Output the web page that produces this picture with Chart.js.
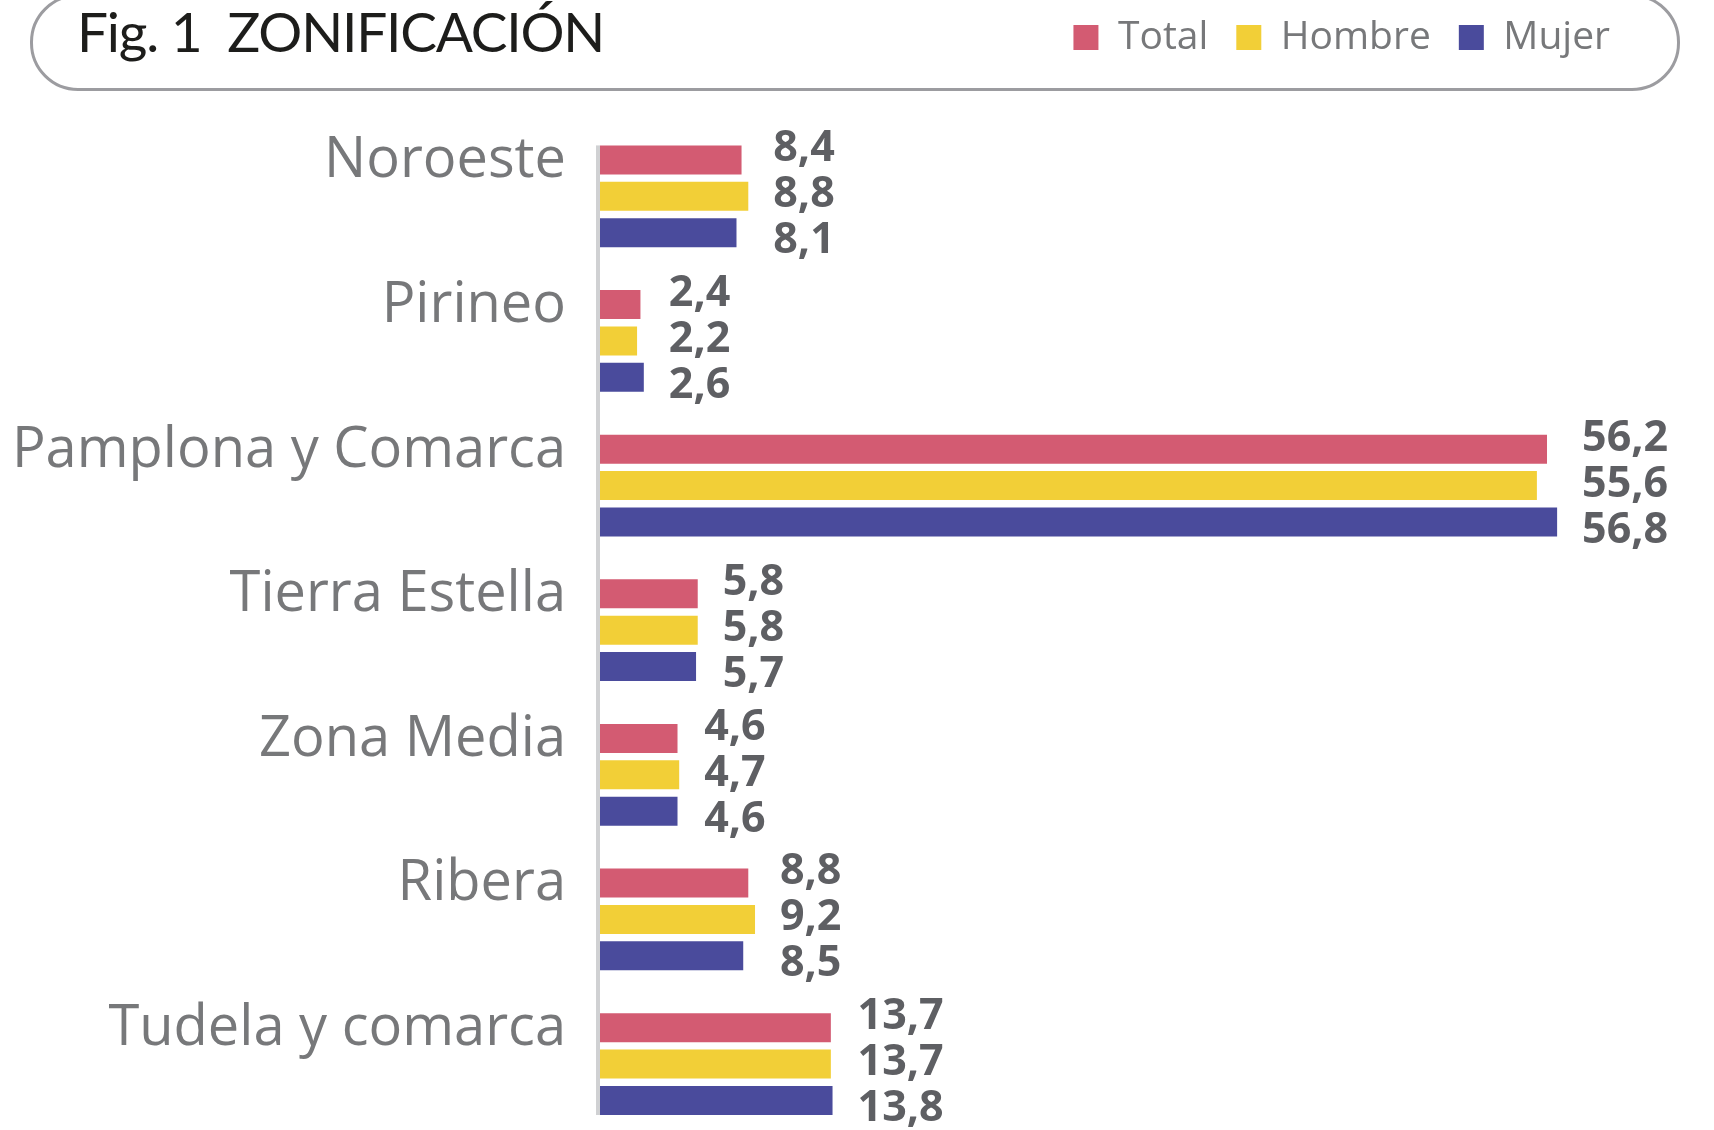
<!DOCTYPE html>
<html>
<head>
<meta charset="utf-8">
<script src="https://cdn.jsdelivr.net/npm/chart.js@4.4.1/dist/chart.umd.min.js"></script>
<style>
  html, body { margin: 0; padding: 0; background: #ffffff; }
  body { width: 1714px; height: 1130px; overflow: hidden; position: relative; }
  #frame {
    position: absolute; left: 30px; top: -6px; width: 1650px; height: 97px;
    box-sizing: border-box; border: 3px solid #9c9ca0; border-radius: 48px;
  }
  #title {
    position: absolute; left: 77px; top: 4px; margin: 0;
    font-family: 'Lato', sans-serif; font-weight: 400; font-size: 55px; line-height: 1;
    color: #1d1d1b; white-space: pre; letter-spacing: -1.2px;
  }
  #wrap { position: absolute; left: 0; top: -10px; width: 1714px; height: 1214px; }
</style>
</head>
<body>
<div id="frame"></div>
<div id="title">Fig. 1  ZONIFICACIÓN</div>
<div id="wrap"><canvas id="c" width="1714" height="1214"></canvas></div>
<script>
const categories = ['Noroeste', 'Pirineo', 'Pamplona y Comarca', 'Tierra Estella', 'Zona Media', 'Ribera', 'Tudela y comarca'];
const seriesNames = ['Total', 'Hombre', 'Mujer'];
const totalValues  = [8.4, 2.4, 56.2, 5.8, 4.6, 8.8, 13.7];
const hombreValues = [8.8, 2.2, 55.6, 5.8, 4.7, 9.2, 13.7];
const mujerValues  = [8.1, 2.6, 56.8, 5.7, 4.6, 8.5, 13.8];
const seriesColors = ['#d35b72', '#f2cf37', '#4a4b9c'];

const fmt = v => v.toFixed(1).replace('.', ',');

const legendSpacer = {
  id: 'legendSpacer',
  beforeInit(chart) {
    const origFit = chart.legend.fit;
    chart.legend.fit = function fit() {
      origFit.bind(chart.legend)();
      this.height += 57;
    };
  }
};

const axisLine = {
  id: 'axisLine',
  beforeDatasetsDraw(chart) {
    const first = chart.getDatasetMeta(0).data[0];
    const lastMeta = chart.getDatasetMeta(chart.data.datasets.length - 1);
    const last = lastMeta.data[lastMeta.data.length - 1];
    const top = first.y - first.height / 2;
    const bottom = last.y + last.height / 2;
    const ctx = chart.ctx;
    ctx.save();
    ctx.fillStyle = '#d0d1d3';
    ctx.fillRect(chart.chartArea.left - 4, top, 4, bottom - top);
    ctx.restore();
  }
};

const valueLabels = {
  id: 'valueLabels',
  afterDatasetsDraw(chart) {
    const ctx = chart.ctx;
    const yScale = chart.scales.y;
    const n = chart.data.datasets.length;
    ctx.save();
    ctx.font = "bold 43px 'Open Sans'";
    ctx.fillStyle = '#5e5f63';
    ctx.textAlign = 'left';
    ctx.textBaseline = 'alphabetic';
    chart.data.labels.forEach((_, i) => {
      let maxX = -Infinity;
      for (let d = 0; d < n; d++) {
        maxX = Math.max(maxX, chart.getDatasetMeta(d).data[i].x);
      }
      const cy = yScale.getPixelForValue(i);
      for (let d = 0; d < n; d++) {
        const v = chart.data.datasets[d].data[i];
        ctx.fillText(fmt(v), maxX + 25, cy + 11 + (d - 1) * 46);
      }
    });
    ctx.restore();
  }
};

new Chart(document.getElementById('c'), {
  type: 'bar',
  data: {
    labels: categories,
    datasets: [
      { label: seriesNames[0], data: totalValues,  backgroundColor: seriesColors[0], borderWidth: 0 },
      { label: seriesNames[1], data: hombreValues, backgroundColor: seriesColors[1], borderWidth: 0 },
      { label: seriesNames[2], data: mujerValues,  backgroundColor: seriesColors[2], borderWidth: 0 }
    ]
  },
  options: {
    indexAxis: 'y',
    responsive: false,
    devicePixelRatio: 1,
    animation: false,
    categoryPercentage: 0.755,
    barPercentage: 0.797,
    layout: { padding: { left: 0, right: 76, top: 0, bottom: 0 } },
    plugins: {
      legend: {
        position: 'top',
        align: 'end',
        labels: {
          boxWidth: 25, boxHeight: 25, padding: 28,
          color: '#77787a',
          font: { family: "'Open Sans'", size: 39 }
        }
      },
      tooltip: { enabled: false }
    },
    scales: {
      x: { display: false, min: 0, max: 61.6 },
      y: {
        grid: { display: false, drawTicks: false },
        border: { display: false },
        ticks: {
          color: '#77787a',
          padding: 34,
          labelOffset: -35,
          font: { family: "'Open Sans'", size: 56 }
        },
        afterFit(scale) { scale.width = 600; }
      }
    }
  },
  plugins: [legendSpacer, axisLine, valueLabels]
});
</script>
</body>
</html>
